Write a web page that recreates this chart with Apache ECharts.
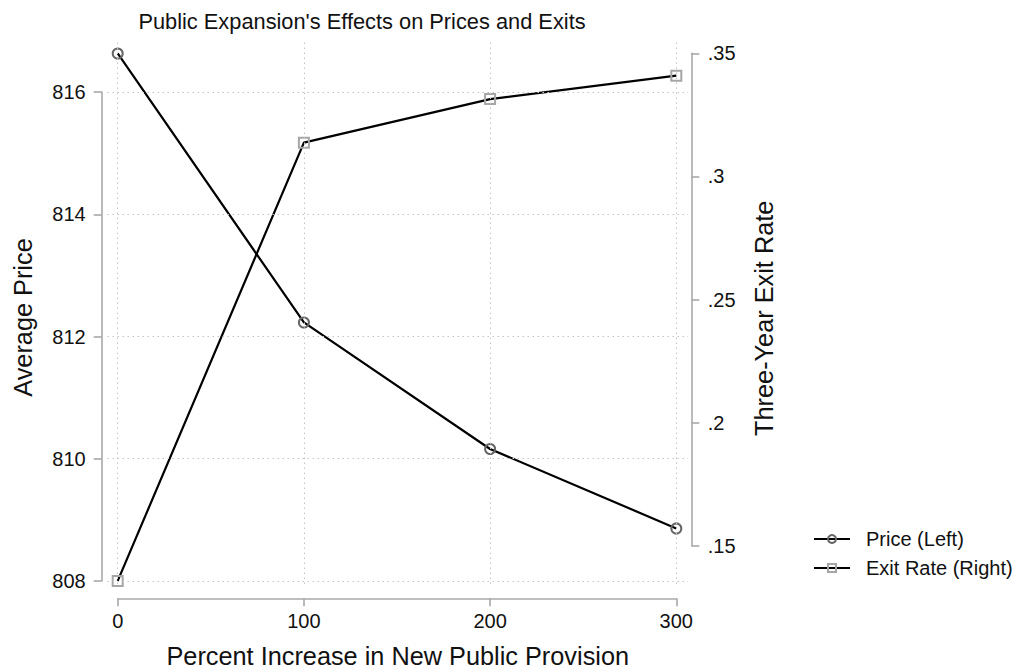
<!DOCTYPE html>
<html>
<head>
<meta charset="utf-8">
<script src="https://cdn.jsdelivr.net/npm/echarts@6/dist/echarts.min.js"></script>
<style>
html,body{margin:0;padding:0;background:#fff;}
#chart{width:1014px;height:672px;}
</style>
</head>
<body>
<div id="chart"></div>
<script>
// ---- data ----
const provision = [0, 100, 200, 300];
const price = [816.63, 812.23, 810.16, 808.86];
const exitRate = [0.1357, 0.3137, 0.3314, 0.3409];
const xTicks = [0, 100, 200, 300];
const priceTicks = [808, 810, 812, 814, 816];
const exitTicks = [0.15, 0.20, 0.25, 0.30, 0.35];

// ---- layout (pixels) ----
const PLOT = { l: 107.5, r: 688, t: 40, b: 584 };
const XT = { p0: 117.7, p1: 676.3 };      // pixel of first/last x tick
const YL = { p0: 581, p1: 92 };           // pixel of first/last left tick
const YR = { p0: 545.7, p1: 53.3 };       // pixel of first/last right tick
const XAXIS_Y = 598.3, LAXIS_X = 101.7, RAXIS_X = 692.3;
const W = 1014, H = 672;

function valAt(ticks, pos, q) {
  const v0 = ticks[0], v1 = ticks[ticks.length - 1];
  return v0 + (q - pos.p0) * (v1 - v0) / (pos.p1 - pos.p0);
}
const xMin = valAt(xTicks, XT, PLOT.l), xMax = valAt(xTicks, XT, PLOT.r);
const plMin = valAt(priceTicks, YL, PLOT.b), plMax = valAt(priceTicks, YL, PLOT.t);
const erMin = valAt(exitTicks, YR, PLOT.b), erMax = valAt(exitTicks, YR, PLOT.t);

const FONT = '"Liberation Sans", Arial, Helvetica, sans-serif';
const AXC = '#a9a9a9';
const axisCommon = {
  axisLine: { show: true, lineStyle: { color: AXC, width: 1.6 } },
  axisTick: { show: true, length: 8, lineStyle: { color: AXC, width: 1.6 } },
  splitLine: { show: false },
  axisLabel: { color: '#111', fontSize: 20, fontFamily: FONT }
};
const fmtRate = v => String(+v.toFixed(2)).replace(/^0/, '');

const gridDash = { color: '#c4c4c4', width: 1, type: [1.5, 3.5] };

const chart = echarts.init(document.getElementById('chart'), null, { renderer: 'svg', width: W, height: H });
chart.setOption({
  animation: false,
  backgroundColor: '#fff',
  textStyle: { fontFamily: FONT },
  grid: [
    { left: PLOT.l, top: PLOT.t, width: PLOT.r - PLOT.l, height: PLOT.b - PLOT.t },
    { left: XT.p0, top: XAXIS_Y - 1, width: XT.p1 - XT.p0, height: 1 },
    { left: LAXIS_X, top: YL.p1, width: 1, height: YL.p0 - YL.p1 },
    { left: RAXIS_X - 1, top: YR.p1, width: 1, height: YR.p0 - YR.p1 }
  ],
  xAxis: [
    { type: 'value', gridIndex: 0, min: xMin, max: xMax, show: false },
    Object.assign({ type: 'value', gridIndex: 1, position: 'bottom', min: xTicks[0], max: xTicks[xTicks.length - 1],
      interval: xTicks[1] - xTicks[0] }, axisCommon,
      { axisLabel: Object.assign({}, axisCommon.axisLabel, { margin: 13 }) }),
    { type: 'value', gridIndex: 2, show: false },
    { type: 'value', gridIndex: 3, show: false }
  ],
  yAxis: [
    { type: 'value', gridIndex: 0, position: 'left', min: plMin, max: plMax, show: false },
    { type: 'value', gridIndex: 0, position: 'right', min: erMin, max: erMax, show: false },
    { type: 'value', gridIndex: 1, show: false },
    Object.assign({ type: 'value', gridIndex: 2, position: 'left', min: priceTicks[0], max: priceTicks[priceTicks.length - 1],
      interval: priceTicks[1] - priceTicks[0] }, axisCommon,
      { axisLabel: Object.assign({}, axisCommon.axisLabel, { margin: 16 }) }),
    Object.assign({ type: 'value', gridIndex: 3, position: 'right', min: exitTicks[0], max: exitTicks[exitTicks.length - 1],
      interval: 0.05 }, axisCommon,
      { axisLabel: Object.assign({}, axisCommon.axisLabel, { margin: 15.5, formatter: fmtRate }) })
  ],
  legend: {
    orient: 'vertical',
    left: 813, top: 529, padding: 0,
    itemWidth: 36, itemHeight: 10, itemGap: 9,
    textStyle: { fontSize: 20, fontFamily: FONT, color: '#111', padding: [0, 0, 0, 11] },
    data: ['Price (Left)', 'Exit Rate (Right)']
  },
  graphic: [
    { type: 'text', x: 362, y: 21, style: { text: "Public Expansion's Effects on Prices and Exits", font: '21.8px ' + FONT, fill: '#111', align: 'center', verticalAlign: 'middle' } },
    { type: 'text', x: (PLOT.l + PLOT.r) / 2, y: 656, style: { text: 'Percent Increase in New Public Provision', font: '25.3px ' + FONT, fill: '#111', align: 'center', verticalAlign: 'middle' } },
    { type: 'text', x: 23, y: 317.5, rotation: Math.PI / 2, style: { text: 'Average Price', font: '25.3px ' + FONT, fill: '#111', align: 'center', verticalAlign: 'middle' } },
    { type: 'text', x: 764, y: 318.3, rotation: Math.PI / 2, style: { text: 'Three-Year Exit Rate', font: '25.3px ' + FONT, fill: '#111', align: 'center', verticalAlign: 'middle' } }
  ],
  series: [
    {
      name: 'gridlines', type: 'line', xAxisIndex: 0, yAxisIndex: 0, data: [], z: 1, silent: true,
      markLine: {
        silent: true, symbol: 'none', label: { show: false }, animation: false,
        lineStyle: gridDash,
        emphasis: { disabled: true },
        data: xTicks.map(v => ({ xAxis: v })).concat(priceTicks.map(v => ({ yAxis: v })))
      }
    },
    {
      name: 'Price (Left)', type: 'line', xAxisIndex: 0, yAxisIndex: 0, z: 3,
      data: provision.map((x, i) => [x, price[i]]),
      symbol: 'circle', symbolSize: 10, showAllSymbol: true,
      lineStyle: { color: '#000', width: 2.2 },
      itemStyle: { color: 'rgba(255,255,255,0)', borderColor: '#666', borderWidth: 2 },
      emphasis: { disabled: true }
    },
    {
      name: 'Exit Rate (Right)', type: 'line', xAxisIndex: 0, yAxisIndex: 1, z: 3,
      data: provision.map((x, i) => [x, exitRate[i]]),
      symbol: 'rect', symbolSize: 10, showAllSymbol: true,
      lineStyle: { color: '#000', width: 2.2 },
      itemStyle: { color: 'rgba(255,255,255,0)', borderColor: '#a6a6a6', borderWidth: 2 },
      emphasis: { disabled: true }
    }
  ]
});
</script>
</body>
</html>
